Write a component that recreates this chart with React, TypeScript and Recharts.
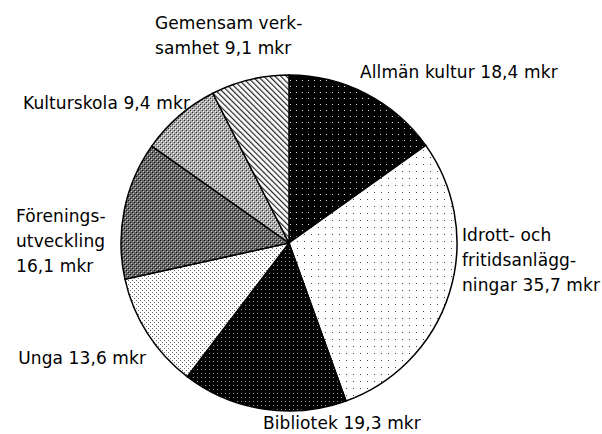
import React from 'react';
import { PieChart, Pie, Cell } from 'recharts';

const categories = [
  'Allmän kultur',
  'Idrott- och fritidsanläggningar',
  'Bibliotek',
  'Unga',
  'Föreningsutveckling',
  'Kulturskola',
  'Gemensam verksamhet',
];
const amounts = [18.4, 35.7, 19.3, 13.6, 16.1, 9.4, 9.1];

// label text broken the way the original report wraps it
const labelLines = [
  ['Allmän kultur 18,4 mkr'],
  ['Idrott- och', 'fritidsanlägg-', 'ningar 35,7 mkr'],
  ['Bibliotek 19,3 mkr'],
  ['Unga 13,6 mkr'],
  ['Förenings-', 'utveckling', '16,1 mkr'],
  ['Kulturskola 9,4 mkr'],
  ['Gemensam verk-', 'samhet 9,1 mkr'],
];

// where each label sits (x, first baseline, anchor)
const labelPos: { x: number; y: number; anchor: 'start' | 'end' }[] = [
  { x: 360, y: 78, anchor: 'start' },
  { x: 462, y: 241, anchor: 'start' },
  { x: 263, y: 429, anchor: 'start' },
  { x: 146, y: 364, anchor: 'end' },
  { x: 16, y: 222, anchor: 'start' },
  { x: 190, y: 109, anchor: 'end' },
  { x: 155, y: 29, anchor: 'start' },
];

const patternIds = ['pAllman', 'pIdrott', 'pBibl', 'pUnga', 'pForen', 'pKultur', 'pGemen'];

const data = categories.map((name, i) => ({ name, value: amounts[i] }));

const renderLabel = (props: any) => {
  const i = props.index;
  const pos = labelPos[i];
  return (
    <text
      key={`lbl-${i}`}
      x={pos.x}
      y={pos.y}
      textAnchor={pos.anchor}
      fill="#000"
      fontSize={17}
      letterSpacing={0.1}
      fontFamily="'DejaVu Sans', sans-serif"
    >
      {labelLines[i].map((line, j) => (
        <tspan key={j} x={pos.x} dy={j === 0 ? 0 : 25}>
          {line}
        </tspan>
      ))}
    </text>
  );
};

export default function App() {
  return (
    <div style={{ position: 'absolute', left: 0, top: 0, width: 602, height: 434, background: '#fff' }}>
      <PieChart width={602} height={434} margin={{ top: 0, right: 0, bottom: 0, left: 0 }}>
        <defs>
          <pattern id="pAllman" width="6" height="6" patternUnits="userSpaceOnUse">
            <rect width="6" height="6" fill="#000" />
            <rect x="2" y="2" width="1" height="1" fill="#ddd" />
          </pattern>
          <pattern id="pIdrott" width="7" height="7" patternUnits="userSpaceOnUse">
            <rect width="7" height="7" fill="#fff" />
            <rect x="3" y="3" width="1" height="1" fill="#444" />
          </pattern>
          <pattern id="pBibl" width="4" height="4" patternUnits="userSpaceOnUse">
            <rect width="4" height="4" fill="#000" />
            <rect x="1" y="1" width="1" height="1" fill="#999" />
          </pattern>
          <pattern id="pUnga" width="4" height="4" patternUnits="userSpaceOnUse">
            <rect width="4" height="4" fill="#fff" />
            <rect x="0" y="0" width="1" height="1" fill="#666" />
            <rect x="2" y="2" width="1" height="1" fill="#666" />
          </pattern>
          <pattern id="pForen" width="4" height="4" patternUnits="userSpaceOnUse">
            <rect width="4" height="4" fill="#666" />
            <rect x="0" y="0" width="1" height="1" fill="#111" />
            <rect x="2" y="2" width="1" height="1" fill="#111" />
            <rect x="1" y="1" width="1" height="1" fill="#ccc" />
            <rect x="3" y="3" width="1" height="1" fill="#ccc" />
          </pattern>
          <pattern id="pKultur" width="4" height="4" patternUnits="userSpaceOnUse">
            <rect width="4" height="4" fill="#aaa" />
            <rect x="0" y="0" width="1" height="1" fill="#333" />
            <rect x="2" y="2" width="1" height="1" fill="#333" />
            <rect x="1" y="1" width="1" height="1" fill="#fff" />
            <rect x="3" y="3" width="1" height="1" fill="#fff" />
          </pattern>
          <pattern id="pGemen" width="4" height="4" patternUnits="userSpaceOnUse" patternTransform="rotate(-45)">
            <rect width="4" height="4" fill="#fff" />
            <rect x="0" y="0" width="1.2" height="4" fill="#222" />
          </pattern>
        </defs>
        <Pie
          data={data}
          dataKey="value"
          nameKey="name"
          cx={289}
          cy={243}
          outerRadius={168}
          startAngle={90}
          endAngle={-270}
          stroke="#000"
          strokeWidth={1.5}
          label={renderLabel}
          labelLine={false}
          isAnimationActive={false}
        >
          {data.map((d, i) => (
            <Cell key={d.name} fill={`url(#${patternIds[i]})`} />
          ))}
        </Pie>
      </PieChart>
    </div>
  );
}
